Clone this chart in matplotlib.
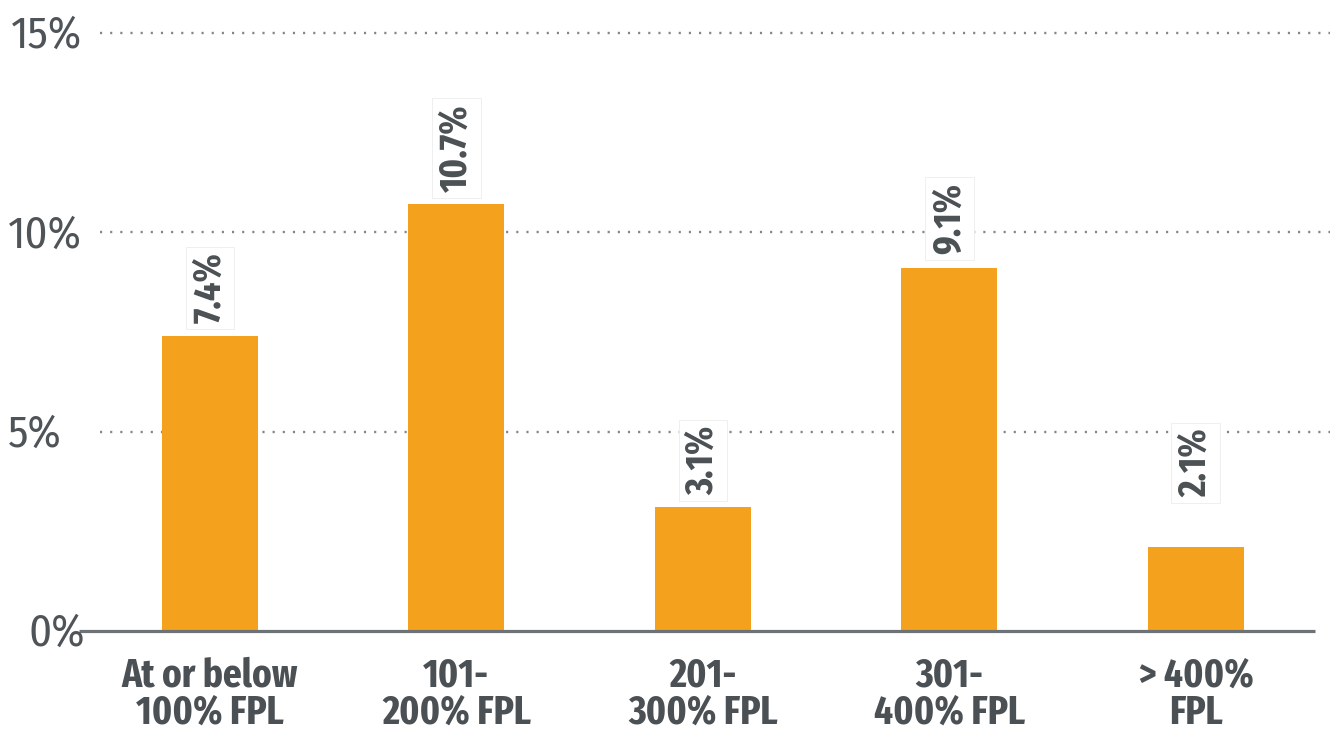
import matplotlib
matplotlib.use("Agg")
import matplotlib.pyplot as plt
from matplotlib.transforms import offset_copy

categories = ["At or below\n100% FPL", "101-\n200% FPL", "201-\n300% FPL", "301-\n400% FPL", "> 400%\nFPL"]
values = [7.4, 10.7, 3.1, 9.1, 2.1]
value_labels = ["7.4%", "10.7%", "3.1%", "9.1%", "2.1%"]
ytick_values = [0, 5, 10, 15]
ytick_labels = ["0%", "5%", "10%", "15%"]

# style only: label offsets (points above bar top), y-label right edges (px)
label_offsets = [9, 9, 9, 10, 36]
ylabel_right_px = [85, 62, 82, 82]

BAR = "#F4A11D"
TXT = "#4b5054"
FONT = ["Fira Sans Extra Condensed", "DejaVu Sans"]
TFONT = ["Fira Sans Condensed", "DejaVu Sans"]

W, H = 1330, 737
fig = plt.figure(figsize=(W / 100, H / 100), dpi=100)
ax_left, ax_right, ax_bottom, ax_top = 100, 1330, 631, 21
ax = fig.add_axes([ax_left / W, (H - ax_bottom) / H, (ax_right - ax_left) / W, (ax_bottom - ax_top) / H])

x = list(range(len(categories)))
ax.bar(x, values, width=0.39, color=BAR, zorder=2)

ax.set_xlim(-0.446, 4.544)
ax.set_ylim(0, 15.3)

for s in ax.spines.values():
    s.set_visible(False)

# dotted gridlines
for v in ytick_values[1:]:
    ax.axhline(v, color="#858585", lw=1.7, linestyle=(0, (0.9, 3.4)), zorder=1)

# baseline
ax.plot([(79 - ax_left) / (ax_right - ax_left), (1315 - ax_left) / (ax_right - ax_left)], [0, 0],
        transform=ax.get_yaxis_transform(), color="#6d7276", lw=2.3, clip_on=False, zorder=3,
        solid_capstyle="butt")

# y labels drawn as text at each tick value
ax.set_yticks(ytick_values)
ax.set_yticklabels([])
ax.tick_params(axis="y", length=0)
for v, lab, rpx in zip(ytick_values, ytick_labels, ylabel_right_px):
    tr = offset_copy(ax.get_yaxis_transform(), fig=fig, x=(rpx - ax_left) * 0.72, y=-3 * 0.72, units="points")
    ax.text(0, v, lab, transform=tr, ha="right", va="center", family=TFONT, fontsize=32,
            fontweight="normal", color="#4f5458", clip_on=False)

ax.set_xticks(x)
ax.set_xticklabels(categories, family=FONT, fontsize=29, fontweight="bold", color=TXT, linespacing=0.95)
ax.tick_params(axis="x", length=0, pad=18)

for xi, v, lab, off in zip(x, values, value_labels, label_offsets):
    ax.annotate(lab, (xi, v), xytext=(0, off), textcoords="offset points",
                rotation=90, ha="center", va="bottom", family=FONT, fontsize=28,
                fontweight="bold", color=TXT, zorder=4,
                bbox=dict(boxstyle="square,pad=0.15", fc="white", ec="#ececec", lw=0.6))

fig.savefig("out.png", dpi=100)
